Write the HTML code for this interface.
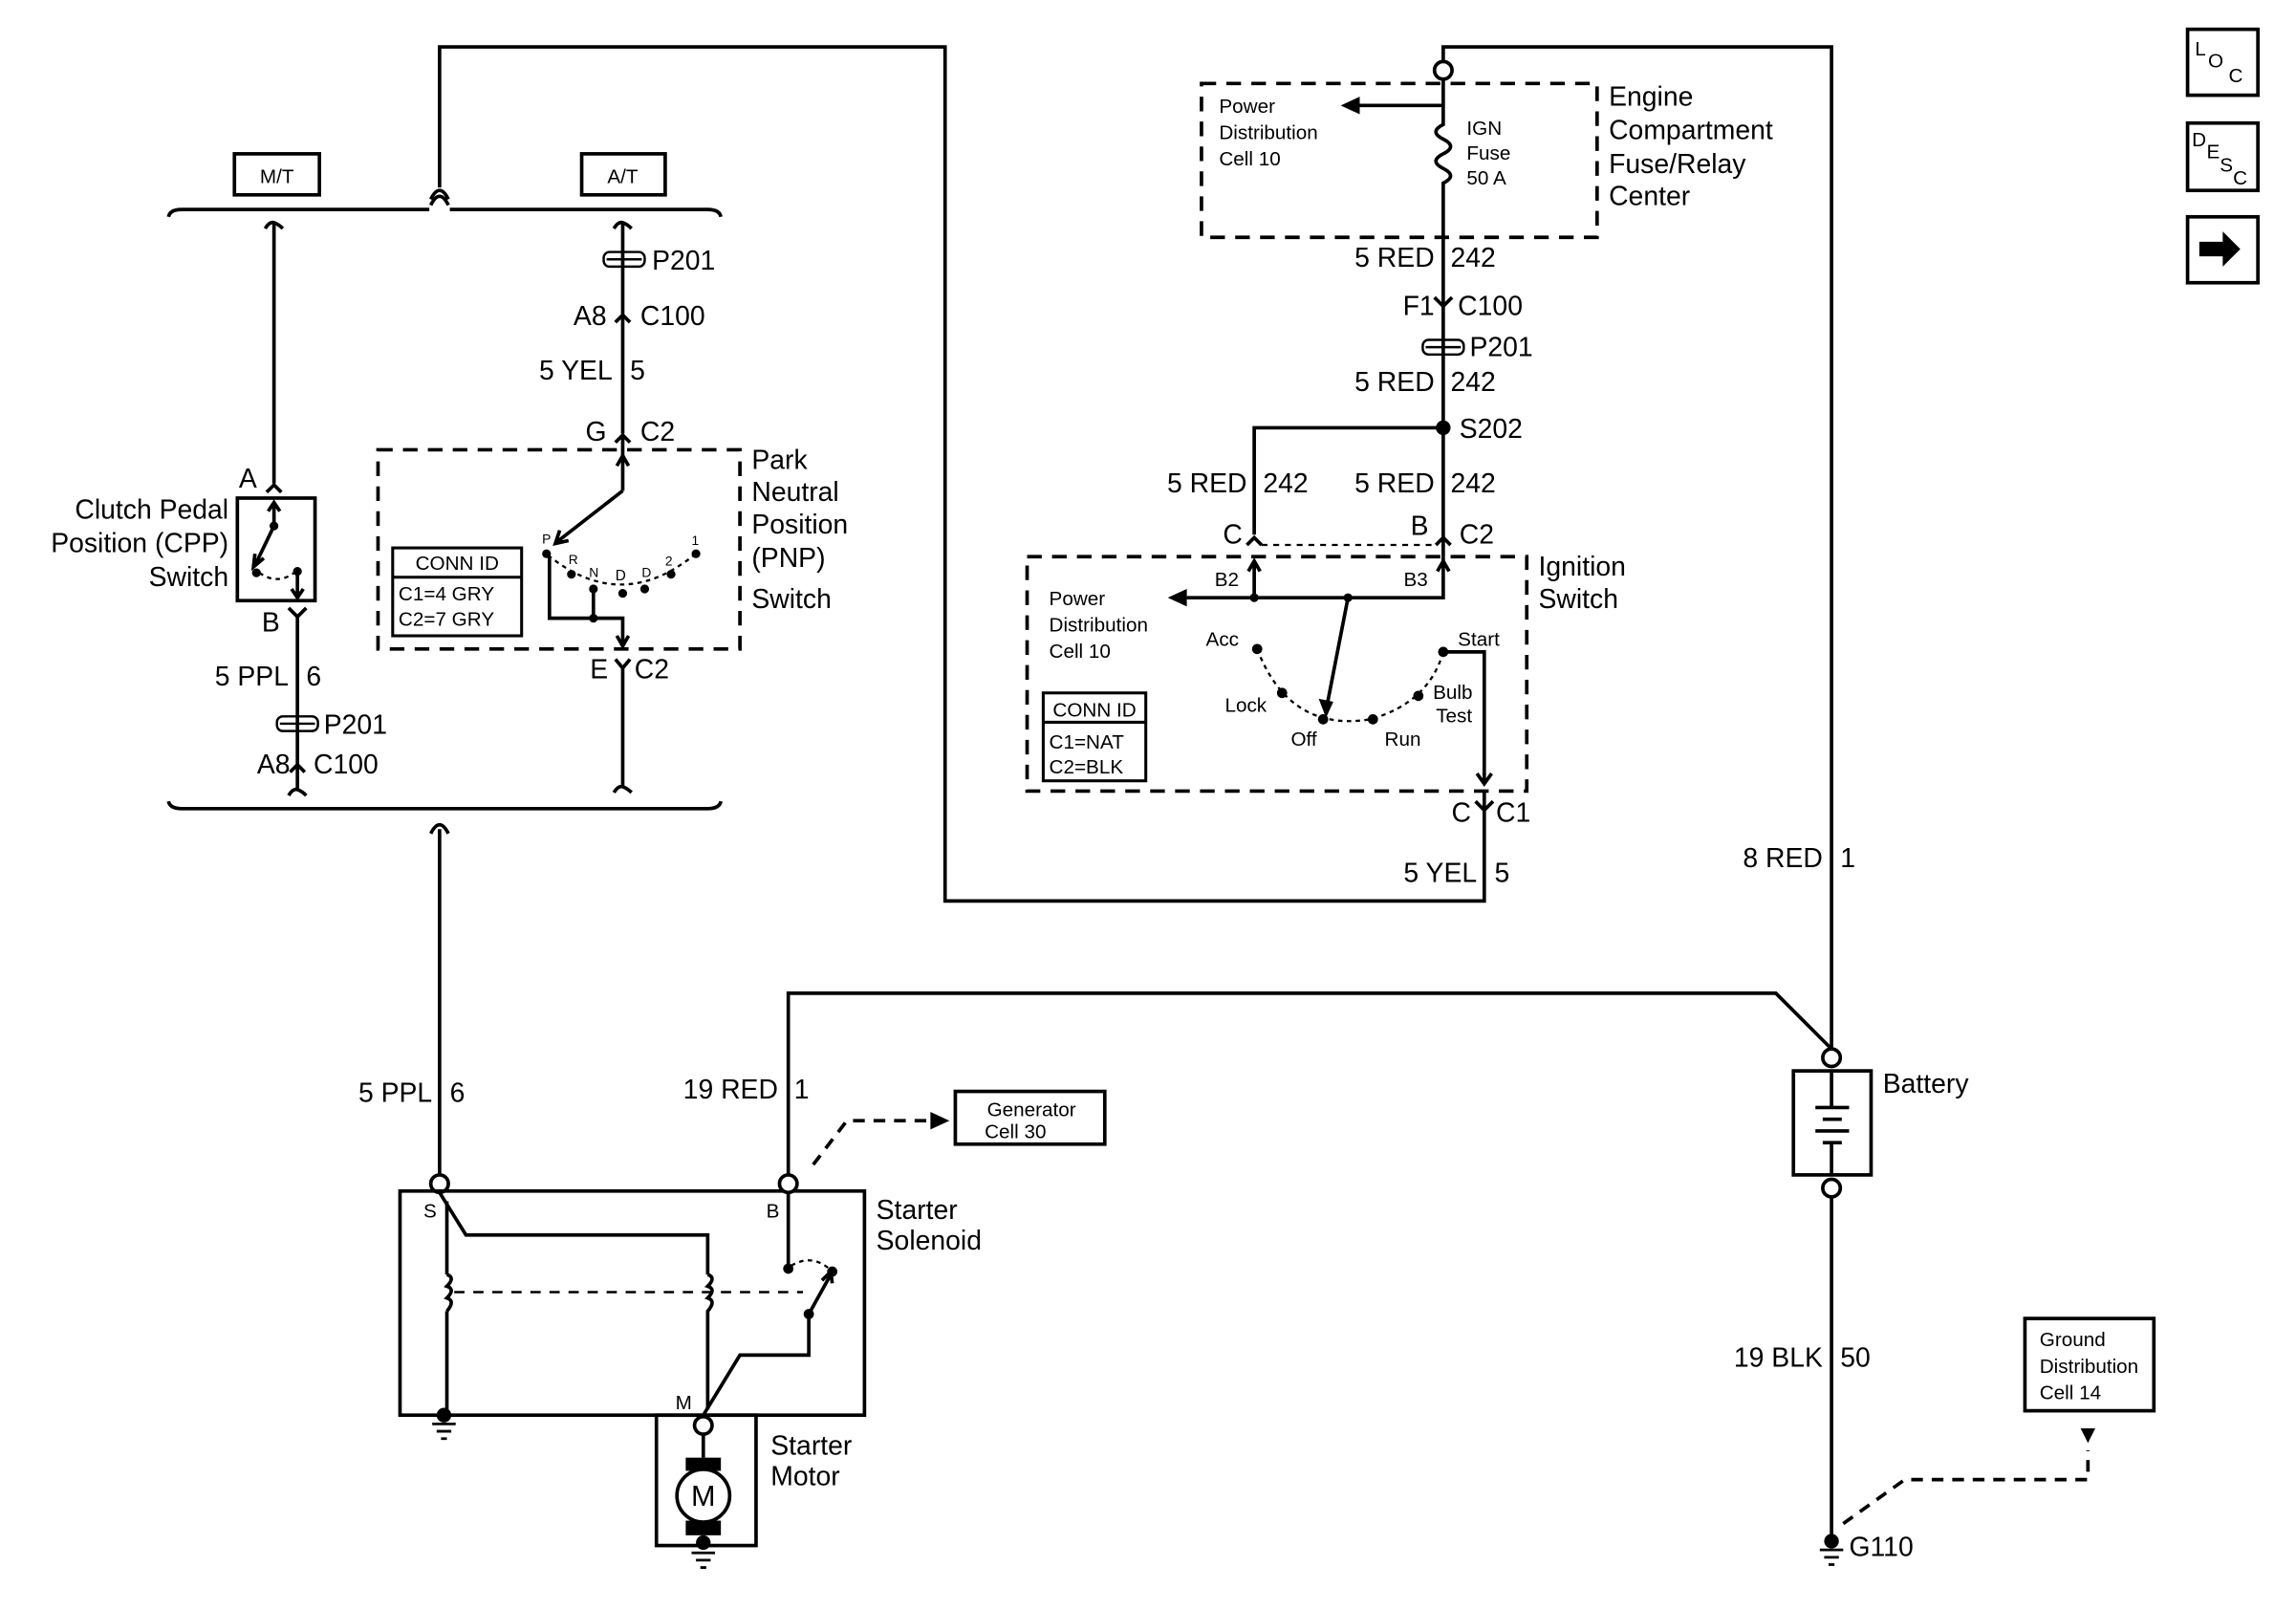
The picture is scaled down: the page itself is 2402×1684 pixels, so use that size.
<!DOCTYPE html>
<html><head><meta charset="utf-8"><style>
html,body{margin:0;padding:0;background:#fff;}
svg{display:block;}
text{font-family:"Liberation Sans",Arial,sans-serif;fill:#000;}
.L{font-size:18.5px;}
.S{font-size:13.5px;}
</style></head><body>
<svg width="2402" height="1684" viewBox="0 0 1567 1099" preserveAspectRatio="none" xmlns="http://www.w3.org/2000/svg">
<g fill="none" stroke="#000" stroke-width="2.4">
<rect x="1493" y="20" width="48" height="45"/>
<rect x="1493" y="84" width="48" height="46"/>
<rect x="1493" y="148" width="48" height="45"/>
<path d="M300,128 V32 H645 V615 H1013 V540"/>
<path d="M985,42 V32 H1250 V716"/>
<path d="M115,148 Q116,143 124,143 H293 M307,143 H483 Q491,143 492,148"/>
<path d="M294,140 q3,-6 6,-6 q3,0 6,6 M294,136 q3,-6 6,-6 q3,0 6,6"/>
<path d="M115,547 Q116,552 124,552 H483 Q491,552 492,547"/>
<path d="M294,569 q3,-6 6,-6 q3,0 6,6"/>
<rect x="160" y="105" width="58" height="28"/>
<rect x="397" y="105" width="57" height="28"/>
<path d="M181,156 q3,-5 6,-4 q3,1 6,4 M187,153 V330"/>
<path d="M182,336 L187,331 L192,336"/>
<rect x="162" y="340" width="53" height="70"/>
<path d="M187,359 V343 M183,349 L187,343 L191,349"/>
<path d="M187,359 L174,386 M174,378 L173,387 L180,381"/>
<path d="M177,391 Q190,400 202,390" stroke-dasharray="3,3" stroke-width="1.5"/>
<path d="M203,389 V407 M199,402 L203,408 L207,402"/>
<path d="M197,415 L203,421 L209,415 M203,421 V540"/>
<path d="M197,543 q3,-5 6,-4 q3,1 6,4"/>
<path d="M198,527 L203,522 L208,527"/>
<path d="M419,156 q3,-5 6,-4 q3,1 6,4 M425,153 V296"/>
<path d="M420,220 L425,215 L430,220"/>
<path d="M420,302 L425,297 L430,302 M425,297 V335"/>
<path d="M421,318 L425,311 L429,318"/>
<rect x="258" y="307" width="247" height="136" stroke-dasharray="10,7"/>
<path d="M425,335 L380,370 M382,362 L379,371 L388,369"/>
<path d="M374,379 Q425,420 476,377" stroke-dasharray="3,3" stroke-width="1.5"/>
<path d="M375,380 V422 H425 V440 M421,434 L425,441 L429,434 M405,402 V422"/>
<path d="M420,450 L425,456 L430,450 M425,456 V538"/>
<path d="M419,541 q3,-5 6,-4 q3,1 6,4"/>
<rect x="268" y="374" width="88" height="60" stroke-width="2"/>
<path d="M268,394 H356" stroke-width="2"/>
<path d="M300,566 V802"/>
<circle cx="300" cy="808" r="6" fill="#fff"/>
<rect x="273" y="813" width="317" height="153"/>
<path d="M300,814 L318,843 H483 V870"/>
<path d="M305,820 V870 M305,895 V962"/>
<path d="M305,870 q6,2 0,8 q6,2 0,8 q6,2 0,9"/>
<path d="M483,870 q6,2 0,8 q6,2 0,8 q6,2 0,9 V962"/>
<path d="M310,882 H548" stroke-dasharray="7,6" stroke-width="1.6"/>
<path d="M538,802 V866"/>
<path d="M540,864 Q555,855 568,868" stroke-dasharray="3,3" stroke-width="1.5"/>
<path d="M552,897 L567,870 M561,874 L567,868 L568,876"/>
<path d="M552,897 V925 H505 L480,966"/>
<circle cx="538" cy="808" r="6" fill="#fff"/>
<rect x="448" y="966" width="68" height="89"/>
<circle cx="480" cy="973" r="6" fill="#fff"/>
<path d="M480,979 V995"/>
<circle cx="480" cy="1021" r="18" fill="#fff"/>
<path d="M538,802 V678 H1212 L1250,716"/>
<circle cx="1250" cy="722" r="6" fill="#fff"/>
<rect x="1224" y="731" width="53" height="71"/>
<path d="M1250,731 V756 M1239,756 H1262 M1244,764 H1257 M1239,772 H1262 M1244,780 H1257 M1250,780 V802"/>
<circle cx="1250" cy="811" r="6" fill="#fff"/>
<path d="M1250,817 V1048"/>
<path d="M555,795 L578,765 H635" stroke-dasharray="8,6"/>
<rect x="652" y="745" width="102" height="36"/>
<path d="M1258,1040 L1300,1010 H1425 V990" stroke-dasharray="8,6"/>
<rect x="1382" y="900" width="88" height="63"/>
<circle cx="985" cy="48" r="6" fill="#fff"/>
<path d="M985,54 V85 q-10,5 0,10 q10,5 0,10 q-10,5 0,10 q10,5 0,10 V380"/>
<path d="M985,72 H928"/>
<rect x="820" y="57" width="270" height="105" stroke-dasharray="10,7"/>
<path d="M979,203 L985,209 L991,203"/>
<path d="M985,292 H856 V365"/>
<path d="M851,372 L856,367 L861,372 M980,372 L985,367 L990,372"/>
<path d="M861,372 H980" stroke-dasharray="4,4" stroke-width="1.5"/>
<rect x="701" y="380" width="341" height="160" stroke-dasharray="10,7"/>
<path d="M856,408 V383 M852,390 L856,383 L860,390"/>
<path d="M985,380 V408 H810 M981,390 L985,383 L989,390"/>
<path d="M920,408 L905,485"/>
<path d="M858,443 Q880,500 935,491 Q975,480 985,445" stroke-dasharray="3,3" stroke-width="1.5"/>
<path d="M985,445 H1013 V535 M1008,528 L1013,535 L1018,528"/>
<path d="M1007,547 L1013,553 L1019,547"/>
<rect x="712" y="473" width="70" height="60" stroke-width="2"/>
<path d="M712,493 H782" stroke-width="2"/>
</g>
<g fill="none" stroke="#000" stroke-width="1.6">
<rect x="189" y="489" width="28" height="10" rx="4"/>
<rect x="412" y="172" width="28" height="10" rx="4"/>
<rect x="971" y="232" width="28" height="10" rx="4"/>
<path d="M191,494 H215 M414,177 H438 M973,237 H997"/>
</g>
<g fill="#000">
<path d="M1501,165 h16 v-7 l12,12 l-12,12 v-7 h-16z"/>
<circle cx="187" cy="359" r="3"/><circle cx="175" cy="391" r="3"/><circle cx="203" cy="390" r="3"/>
<circle cx="373" cy="378" r="3"/><circle cx="390" cy="392" r="3"/><circle cx="405" cy="402" r="3"/>
<circle cx="425" cy="405" r="3"/><circle cx="440" cy="402" r="3"/><circle cx="458" cy="392" r="3"/><circle cx="475" cy="378" r="3"/>
<circle cx="405" cy="422" r="3"/>
<circle cx="538" cy="866" r="3.5"/><circle cx="568" cy="868" r="3.5"/><circle cx="552" cy="897" r="3.5"/>
<circle cx="303" cy="966" r="5"/><circle cx="480" cy="1053" r="5"/><circle cx="1250" cy="1052" r="5"/>
<rect x="468" y="995" width="24" height="9"/><rect x="468" y="1038" width="24" height="10"/>
<path d="M915,72 l13,-6 v12z"/>
<path d="M797,408 l13,-6 v12z"/>
<path d="M905,490 l-5,-13 l10,2z"/>
<path d="M648,765 l-13,-6 v12z"/>
<path d="M1420,975 h10 l-5,10z"/>
<circle cx="985" cy="292" r="5"/>
<circle cx="856" cy="408" r="3"/><circle cx="920" cy="408" r="3"/>
<circle cx="858" cy="443" r="3.5"/><circle cx="875" cy="473" r="3.5"/><circle cx="903" cy="491" r="3.5"/>
<circle cx="937" cy="491" r="3.5"/><circle cx="968" cy="475" r="3.5"/><circle cx="985" cy="445" r="3.5"/>
</g>
<g stroke="#000" stroke-width="1.8">
<path d="M295,972 h16 M298,977 h10 M301,982 h4"/>
<path d="M472,1060 h16 M475,1065 h10 M478,1070 h4"/>
<path d="M1242,1058 h16 M1245,1063 h10 M1248,1068 h4"/>
</g>
<text class="S" x="1498" y="38">L</text><text class="S" x="1507" y="46" font-size="13">O</text><text class="S" x="1521" y="56" font-size="13">C</text>
<text class="S" x="1496" y="100">D</text><text class="S" x="1506" y="108">E</text><text class="S" x="1515" y="117">S</text><text class="S" x="1524" y="126">C</text>
<text class="S" x="189" y="125" text-anchor="middle">M/T</text>
<text class="S" x="425" y="125" text-anchor="middle">A/T</text>
<text class="L" x="163" y="333">A</text>
<text class="L" x="156" y="354" text-anchor="end">Clutch Pedal</text>
<text class="L" x="156" y="377" text-anchor="end">Position (CPP)</text>
<text class="L" x="156" y="400" text-anchor="end">Switch</text>
<text class="L" x="191" y="431" text-anchor="end">B</text>
<text class="L" x="197" y="468" text-anchor="end">5 PPL</text><text class="L" x="209" y="468">6</text>
<text class="L" x="221" y="501">P201</text>
<text class="L" x="198" y="528" text-anchor="end">A8</text><text class="L" x="214" y="528">C100</text>
<text class="L" x="445" y="184">P201</text>
<text class="L" x="414" y="222" text-anchor="end">A8</text><text class="L" x="437" y="222">C100</text>
<text class="L" x="418" y="259" text-anchor="end">5 YEL</text><text class="L" x="430" y="259">5</text>
<text class="L" x="414" y="301" text-anchor="end">G</text><text class="L" x="437" y="301">C2</text>
<text class="L" x="415" y="463" text-anchor="end">E</text><text class="L" x="433" y="463">C2</text>
<text class="L" x="513" y="320">Park</text><text class="L" x="513" y="342">Neutral</text><text class="L" x="513" y="364">Position</text><text class="L" x="513" y="387">(PNP)</text><text class="L" x="513" y="415">Switch</text>
<text font-size="9" x="370" y="371">P</text><text font-size="9" x="388" y="385">R</text><text font-size="9" x="402" y="394">N</text><text font-size="10" x="420" y="396">D</text><text font-size="9" x="438" y="394">D</text><text font-size="9" x="454" y="386">2</text><text font-size="9" x="472" y="372">1</text>
<text class="S" x="312" y="389" text-anchor="middle">CONN ID</text>
<text class="S" x="272" y="410">C1=4 GRY</text><text class="S" x="272" y="427">C2=7 GRY</text>
<text class="L" x="295" y="752" text-anchor="end">5 PPL</text><text class="L" x="307" y="752">6</text>
<text class="S" x="289" y="831">S</text><text class="S" x="523" y="831">B</text><text class="S" x="461" y="962">M</text>
<text class="L" x="598" y="832">Starter</text><text class="L" x="598" y="853">Solenoid</text>
<text class="L" x="526" y="993">Starter</text><text class="L" x="526" y="1014">Motor</text>
<text x="480" y="1028" font-size="20" text-anchor="middle">M</text>
<text class="L" x="531" y="750" text-anchor="end">19 RED</text><text class="L" x="542" y="750">1</text>
<text class="S" x="704" y="762" text-anchor="middle">Generator</text><text class="S" x="672" y="777">Cell 30</text>
<text class="L" x="1285" y="746">Battery</text>
<text class="L" x="1244" y="933" text-anchor="end">19 BLK</text><text class="L" x="1256" y="933">50</text>
<text class="L" x="1262" y="1062">G110</text>
<text class="S" x="1392" y="919">Ground</text><text class="S" x="1392" y="937">Distribution</text><text class="S" x="1392" y="955">Cell 14</text>
<text class="L" x="1244" y="592" text-anchor="end">8 RED</text><text class="L" x="1256" y="592">1</text>
<text class="S" x="832" y="77">Power</text><text class="S" x="832" y="95">Distribution</text><text class="S" x="832" y="113">Cell 10</text>
<text class="S" x="1001" y="92">IGN</text><text class="S" x="1001" y="109">Fuse</text><text class="S" x="1001" y="126">50 A</text>
<text class="L" x="1098" y="72">Engine</text><text class="L" x="1098" y="95">Compartment</text><text class="L" x="1098" y="118">Fuse/Relay</text><text class="L" x="1098" y="140">Center</text>
<text class="L" x="979" y="182" text-anchor="end">5 RED</text><text class="L" x="990" y="182">242</text>
<text class="L" x="979" y="215" text-anchor="end">F1</text><text class="L" x="995" y="215">C100</text>
<text class="L" x="1003" y="243">P201</text>
<text class="L" x="979" y="267" text-anchor="end">5 RED</text><text class="L" x="990" y="267">242</text>
<text class="L" x="996" y="299">S202</text>
<text class="L" x="851" y="336" text-anchor="end">5 RED</text><text class="L" x="862" y="336">242</text>
<text class="L" x="979" y="336" text-anchor="end">5 RED</text><text class="L" x="990" y="336">242</text>
<text class="L" x="848" y="371" text-anchor="end">C</text><text class="L" x="975" y="365" text-anchor="end">B</text><text class="L" x="996" y="371">C2</text>
<text class="S" x="829" y="400">B2</text><text class="S" x="958" y="400">B3</text>
<text class="S" x="716" y="413">Power</text><text class="S" x="716" y="431">Distribution</text><text class="S" x="716" y="449">Cell 10</text>
<text class="S" x="823" y="441">Acc</text><text class="S" x="836" y="486">Lock</text><text class="S" x="881" y="509">Off</text><text class="S" x="945" y="509">Run</text>
<text class="S" x="978" y="477">Bulb</text><text class="S" x="980" y="493">Test</text><text class="S" x="995" y="441">Start</text>
<text class="S" x="747" y="489" text-anchor="middle">CONN ID</text>
<text class="S" x="716" y="511">C1=NAT</text><text class="S" x="716" y="528">C2=BLK</text>
<text class="L" x="1050" y="393">Ignition</text><text class="L" x="1050" y="415">Switch</text>
<text class="L" x="1004" y="561" text-anchor="end">C</text><text class="L" x="1021" y="561">C1</text>
<text class="L" x="1008" y="602" text-anchor="end">5 YEL</text><text class="L" x="1020" y="602">5</text>
</svg>
</body></html>
